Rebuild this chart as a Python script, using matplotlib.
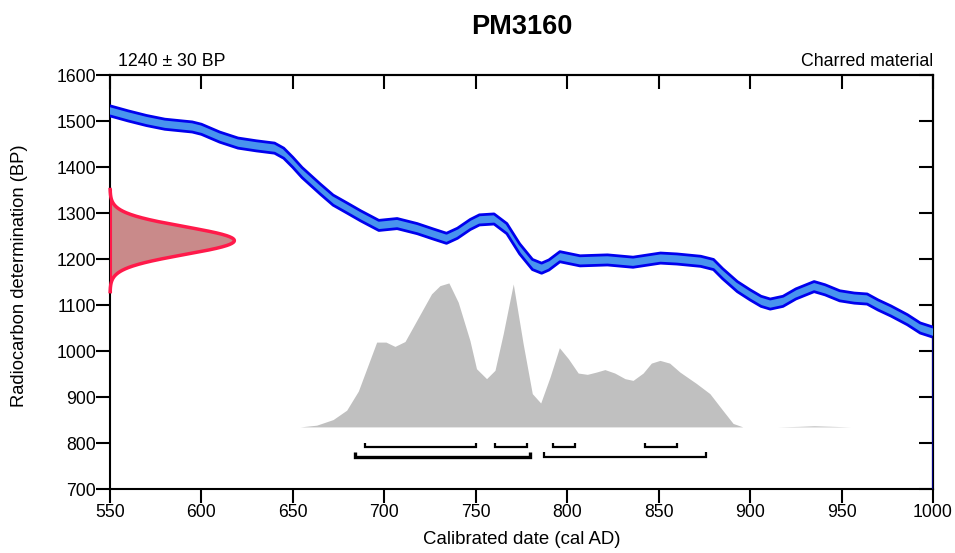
import numpy as np
import matplotlib
matplotlib.use("Agg")
import matplotlib.pyplot as plt

plt.rcParams['font.family'] = ['Liberation Sans', 'DejaVu Sans']

# ---- data ----
title = "PM3160"
date_label = "1240 ± 30 BP"
material = "Charred material"
c14_mean = 1240
c14_err = 30

# calibration curve (centre, BP) and half-width
cal_years = [550, 560, 570, 580, 590, 595, 600, 610, 620, 630, 640, 645, 650, 655, 660,
             665, 672, 680, 687, 697, 707, 718, 727, 734, 740, 747, 752, 760, 767, 774,
             781, 786, 790, 796, 807, 822, 836, 851, 860, 873, 880, 885, 893, 900, 906,
             911, 918, 925, 935, 941, 949, 957, 964, 970, 977, 986, 993, 1000]
cal_bp = [1522, 1511, 1501, 1493, 1489, 1487, 1482, 1465, 1452, 1446, 1441, 1430, 1410, 1388, 1370,
          1352, 1328, 1310, 1294, 1273, 1277, 1266, 1254, 1245, 1256, 1275, 1285, 1287, 1266, 1222,
          1188, 1180, 1187, 1205, 1196, 1198, 1193, 1202, 1200, 1195, 1188, 1168, 1140, 1122, 1108,
          1102, 1108, 1124, 1140, 1133, 1120, 1115, 1113, 1100, 1087, 1068, 1050, 1041]
cal_halfwidth = 11

# calibrated probability distribution (relative)
prob_years = [650, 654, 663, 672, 679.4, 685.8, 695.8, 700.9, 705.8, 711.3, 725.8, 730.4,
              735.3, 740.4, 746.8, 750.4, 755.9, 760.5, 765, 770.5, 775.9, 780.9, 785.5,
              790.6, 795.7, 800.6, 806, 811, 816, 820.6, 826, 831.6, 836, 841.5, 846,
              850.7, 856, 861.6, 870.7, 878, 885, 890.7, 896, 915, 927, 935, 945, 955, 970]
prob_rel = [0, 0, 0.012, 0.051, 0.116, 0.249, 0.589, 0.589, 0.559, 0.593, 0.924, 0.981,
            1.0, 0.866, 0.600, 0.404, 0.335, 0.393, 0.647, 0.993, 0.578, 0.231, 0.166,
            0.346, 0.550, 0.474, 0.374, 0.365, 0.381, 0.398, 0.374, 0.335, 0.323, 0.374, 0.443,
            0.462, 0.443, 0.381, 0.301, 0.231, 0.116, 0.024, 0.0, 0.0, 0.004, 0.008, 0.004, 0.0, 0.0]

# highest posterior density ranges
ranges_68 = [(689.4, 749.9), (760.5, 777.8), (792.3, 804.2), (842.5, 860.1)]
ranges_95 = [(684.0, 779.7), (787.4, 875.8)]

x_ticks = [550, 600, 650, 700, 750, 800, 850, 900, 950, 1000]
y_ticks = [700, 800, 900, 1000, 1100, 1200, 1300, 1400, 1500, 1600]

# ---- figure ----
fig = plt.figure(figsize=(9.55, 5.53), dpi=100)
ax = fig.add_axes([110/955, 1-489/553, 823/955, 414/553])
ax.set_xlim(550, 1000)
ax.set_ylim(700, 1600)

# calibrated distribution (grey)
base = 835
scale = 313
py = np.array(prob_rel)
ax.fill_between(prob_years, base, base + scale*py, color='#c0c0c0', lw=0, zorder=1)

# calibration curve
cy = np.array(cal_bp)
ax.fill_between(cal_years, cy - cal_halfwidth, cy + cal_halfwidth,
                facecolor='#4893ee', edgecolor='none', zorder=3)
ax.plot(cal_years, cy + cal_halfwidth, color='#0000ee', lw=2, zorder=4)
ax.plot(cal_years, cy - cal_halfwidth, color='#0000ee', lw=2, zorder=4)
ax.plot([cal_years[-1], cal_years[-1]], [700, cy[-1] - cal_halfwidth], color='#000080', lw=1.5, zorder=4)

# radiocarbon measurement (red)
bp = np.linspace(c14_mean - 3.7*c14_err, c14_mean + 3.7*c14_err, 300)
dens = np.exp(-0.5*((bp - c14_mean)/c14_err)**2)
width_years = 68
ax.fill_betweenx(bp, 550, 550 + width_years*dens, facecolor='#c98a8a', edgecolor='none', zorder=5)
ax.plot(550 + width_years*dens, bp, color='#ff1a4a', lw=2.5, zorder=6, clip_on=False)
ax.plot([550.4, 550.4], [bp[0], bp[-1]], color='#ff1a4a', lw=1.5, zorder=6)

# ranges brackets
def bracket(x0, x1, y, lw):
    h = 10
    ax.plot([x0, x0, x1, x1], [y + h, y, y, y + h], color='black', lw=lw,
            solid_joinstyle='miter', solid_capstyle='butt', zorder=7)

for a, b in ranges_68:
    bracket(a, b, 791, 1.6)
for i, (a, b) in enumerate(ranges_95):
    bracket(a, b, 770, 2.4 if i == 0 else 1.6)

# axes styling
ax.set_xticks(x_ticks)
ax.set_yticks(y_ticks)
ax.tick_params(axis='both', which='major', direction='out', length=10, width=1.5,
               labelsize=12.7)
ax.tick_params(axis='y', pad=0)
ax.tick_params(axis='x', pad=1)
for s in ax.spines.values():
    s.set_linewidth(1.5)

# mirrored inner ticks on top/right
sec_x = ax.secondary_xaxis('top')
sec_x.set_xticks(x_ticks)
sec_x.tick_params(direction='in', length=10, width=1.5, labeltop=False)
sec_x.spines['top'].set_linewidth(1.5)
sec_y = ax.secondary_yaxis('right')
sec_y.set_yticks(y_ticks)
sec_y.tick_params(direction='in', length=10, width=1.5, labelright=False)
sec_y.spines['right'].set_linewidth(1.5)

ax.set_xlabel("Calibrated date (cal AD)", fontsize=13.4, labelpad=7)
ax.set_ylabel("Radiocarbon determination (BP)", fontsize=13.2)
ax.yaxis.set_label_coords(-(110-28)/823, (489-276)/414)

fig.text(522/955, 1-27/553, title, ha='center', va='center', fontsize=19.5, fontweight='bold')
ax.text(0.01, 1.012, date_label, transform=ax.transAxes, ha='left', va='bottom', fontsize=12.8)
ax.text(1.0, 1.012, material, transform=ax.transAxes, ha='right', va='bottom', fontsize=12.8)

fig.savefig("out.png", dpi=100)
